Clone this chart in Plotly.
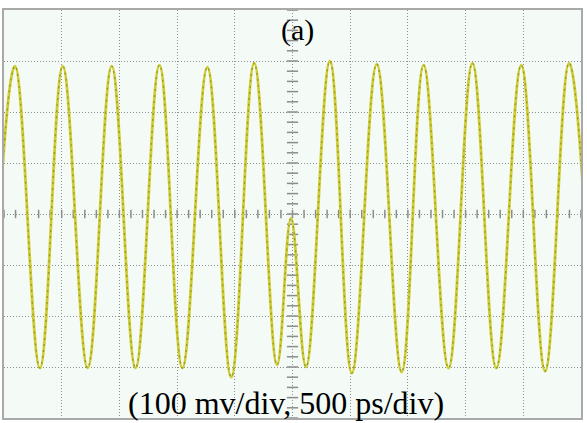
import plotly.graph_objects as go

# Oscilloscope capture: extrema of the sampled waveform (time in ps, level in mV)
extreme_times_ps = [-2612, -2405, -2189, -1991, -1775, -1567, -1360, -1153, -954,
                    -738, -531, -332, -134, -13, 117, 324, 514, 730, 946, 1136,
                    1352, 1559, 1766, 1982, 2189, 2397, 2604]
extreme_levels_mv = [-302, 290, -302, 290, -302, 290, -302, 292, -302, 288, -320,
                     296, -296, -8, -300, 300, -312, 294, -310, 292, -302, 296,
                     -302, 292, -308, 296, -302]

# Screen graticule: 10 x 8 divisions, 500 ps/div and 100 mV/div
time_range_ps = [-2500, 2500]
level_range_mv = [-400, 400]
time_div_ps = 500
level_div_mv = 100
time_minor_ps = 100
level_minor_mv = 20

trace_color = "#cfcd36"
speckle_color = "#9b9a1c"
grid_color = "#8e8e8e"
serif = "Liberation Serif, Times New Roman, serif"

fig = go.Figure()

# centre-line minor tick marks of the graticule
n_t = int((time_range_ps[1] - time_range_ps[0]) / time_minor_ps) + 1
n_v = int((level_range_mv[1] - level_range_mv[0]) / level_minor_mv) + 1
minor_t = [time_range_ps[0] + k * time_minor_ps for k in range(n_t)]
minor_v = [level_range_mv[0] + k * level_minor_mv for k in range(n_v)]
fig.add_trace(go.Scatter(
    x=minor_t, y=[0] * len(minor_t), mode="markers", hoverinfo="skip",
    marker=dict(symbol="line-ns", size=6, line=dict(width=1.5, color="#8c8c8c")),
))
fig.add_trace(go.Scatter(
    x=[0] * len(minor_v), y=minor_v, mode="markers", hoverinfo="skip",
    marker=dict(symbol="line-ew", size=8, line=dict(width=1.5, color="#8c8c8c")),
))

# the waveform itself, with a darker speckled overlay like a phosphor trace
fig.add_trace(go.Scatter(
    x=extreme_times_ps, y=extreme_levels_mv, mode="lines",
    line=dict(color=trace_color, width=2.8, shape="spline", smoothing=1.1),
))
fig.add_trace(go.Scatter(
    x=extreme_times_ps, y=extreme_levels_mv, mode="lines",
    line=dict(color=speckle_color, width=1.4, shape="spline", smoothing=1.1,
              dash="2px,4px"),
))

axis_common = dict(
    showgrid=True, gridcolor=grid_color, gridwidth=1, griddash="1px,2px",
    zeroline=False, showticklabels=False, ticks="",
    showline=True, linecolor="#a9a9a9", linewidth=2, mirror=True,
    fixedrange=True,
)
fig.update_xaxes(range=time_range_ps, dtick=time_div_ps, tick0=0, **axis_common)
fig.update_yaxes(range=level_range_mv, dtick=level_div_mv, tick0=0, **axis_common)

fig.add_annotation(text="(a)", xref="paper", yref="paper", x=0.509, y=0.951,
                   xanchor="center", yanchor="middle", showarrow=False,
                   font=dict(family=serif, size=30, color="black"))
fig.add_annotation(text="(100 mv/div, 500 ps/div)", xref="paper", yref="paper",
                   x=0.489, y=0.037, xanchor="center", yanchor="middle",
                   showarrow=False,
                   font=dict(family=serif, size=32, color="black"))

fig.update_layout(
    width=587, height=423,
    margin=dict(l=4, r=4, t=10, b=5),
    paper_bgcolor="white", plot_bgcolor="#f4faf6",
    showlegend=False,
)

fig.write_html("out.html")
